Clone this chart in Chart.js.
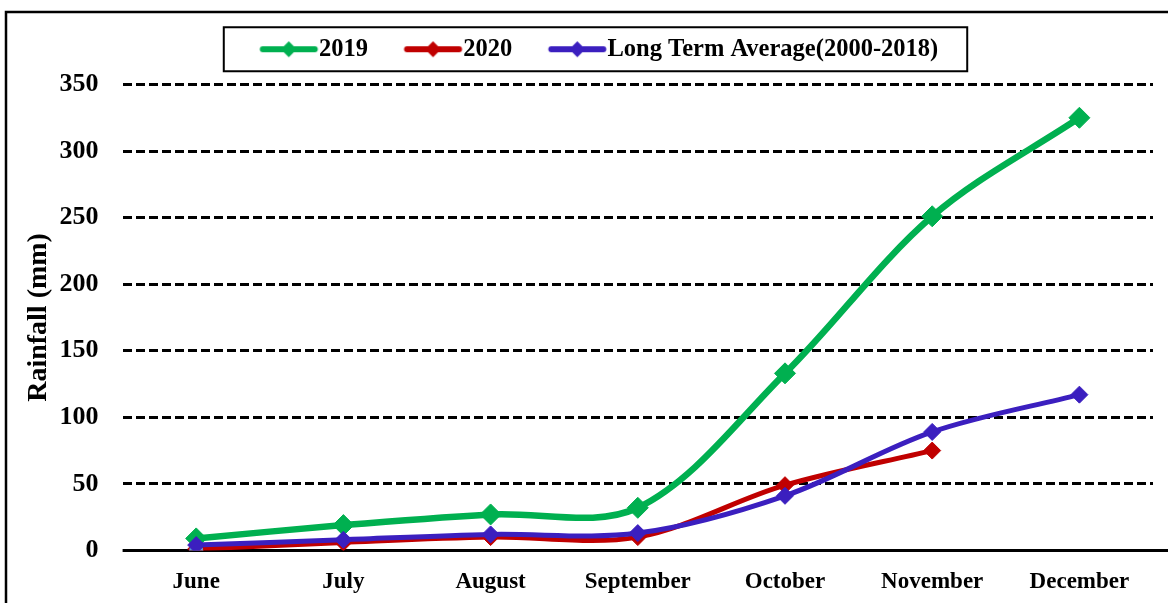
<!DOCTYPE html>
<html>
<head>
<meta charset="utf-8">
<script src="https://cdn.jsdelivr.net/npm/chart.js@4"></script>
<style>
  html, body { margin: 0; padding: 0; background: #fff; }
  #wrap { width: 1168px; height: 603px; }
</style>
</head>
<body>
<div id="wrap"><canvas id="rain-chart"></canvas></div>
<script>
// Monthly rainfall, June - December
const months = ['June', 'July', 'August', 'September', 'October', 'November', 'December'];
const rain2019 = [9, 19, 27, 32, 133, 251, 325];
const rain2020 = [1, 6, 10, 10, 49, 75, null];
const rainLTA = [4, 8, 12, 13, 41, 89, 117];
const rainOther = [0, null, null, null, null, null, null];
const yTicks = [0, 50, 100, 150, 200, 250, 300, 350];

const GREEN = '#00B050';
const RED = '#C00000';
const BLUE = '#3B1FBF';
const FONT = '"Liberation Serif", "Times New Roman", serif';

// legend icon: short line with a diamond in the middle,
// drawn in the right part of the canvas so it starts at the item's left edge
function legendIcon(color, lw, r) {
    const c = document.createElement('canvas');
    c.width = 80; c.height = 22;
    const g = c.getContext('2d');
    const x0 = 16.5, x1 = 74.5, xm = (x0 + x1) / 2;
    g.strokeStyle = color;
    g.lineWidth = lw;
    g.lineCap = 'round';
    g.beginPath(); g.moveTo(x0 + 3, 11); g.lineTo(x1 - 3, 11); g.stroke();
    g.fillStyle = color;
    g.beginPath();
    g.moveTo(xm, 11 - r); g.lineTo(xm + r, 11); g.lineTo(xm, 11 + r); g.lineTo(xm - r, 11);
    g.closePath(); g.fill();
    return c;
}
const icons = [legendIcon(GREEN, 6, 8), legendIcon(RED, 6, 8), legendIcon(BLUE, 6, 8)];

// extra room under the legend
const legendGap = {
    id: 'legendGap',
    beforeInit(chart) {
        const fit = chart.legend.fit;
        chart.legend.fit = function() {
            fit.call(this);
            this.height += 13;
        };
    }
};

// solid zero line (under the series), running out to the right edge
const zeroLine = {
    id: 'zeroLine',
    beforeDatasetsDraw(chart) {
        const ctx = chart.ctx;
        const y0 = chart.scales.y.getPixelForValue(0);
        ctx.save();
        ctx.strokeStyle = '#000';
        ctx.lineWidth = 3;
        ctx.beginPath();
        ctx.moveTo(chart.chartArea.left, y0);
        ctx.lineTo(chart.width, y0);
        ctx.stroke();
        ctx.restore();
    }
};

// outer frame and box round the legend
const framePlugin = {
    id: 'frame',
    afterDraw(chart) {
        const ctx = chart.ctx;
        ctx.save();
        ctx.strokeStyle = '#000';
        ctx.lineWidth = 2.5;
        ctx.strokeRect(6, 12, chart.width + 20, chart.height + 20);
        const boxes = chart.legend.legendHitBoxes;
        if (boxes && boxes.length) {
            const left = boxes[0].left - 36;
            const last = boxes[boxes.length - 1];
            const right = last.left + last.width + 29;
            const mid = boxes[0].top + boxes[0].height / 2;
            ctx.lineWidth = 2;
            ctx.strokeRect(left, mid - 22, right - left, 44);
        }
        ctx.restore();
    }
};

new Chart(document.getElementById('rain-chart'), {
    type: 'line',
    data: {
        labels: months,
        datasets: [
            { label: '2019', data: rain2019, borderColor: GREEN, backgroundColor: GREEN, borderWidth: 6.5, pointStyle: 'rectRot', pointRadius: 10.5, pointBorderWidth: 1, order: 4 },
            { label: '2020', data: rain2020, borderColor: RED, backgroundColor: RED, borderWidth: 5, pointStyle: 'rectRot', pointRadius: 8.5, pointBorderWidth: 1, order: 3 },
            { label: 'Long Term Average(2000-2018)', data: rainLTA, borderColor: BLUE, backgroundColor: BLUE, borderWidth: 5, pointStyle: 'rectRot', pointRadius: 8.5, pointBorderWidth: 1, order: 1 },
            { label: 'other', data: rainOther, borderColor: '#5B9BD5', backgroundColor: '#5B9BD5', showLine: false, pointStyle: 'circle', pointRadius: 6.5, order: 2 }
        ]
    },
    options: {
        responsive: true,
        maintainAspectRatio: false,
        animation: false,
        devicePixelRatio: 1,
        layout: { padding: { left: 30, right: 0, top: 1, bottom: -11 } },
        elements: { line: { tension: 0.33, cubicInterpolationMode: 'default' } },
        plugins: {
            tooltip: { enabled: false },
            legend: {
                position: 'top',
                labels: {
                    usePointStyle: true,
                    pointStyleWidth: 47,
                    padding: 36,
                    color: '#000',
                    font: { family: FONT, size: 24.5, weight: 'bold' },
                    generateLabels(chart) {
                        return chart.data.datasets.slice(0, 3).map((ds, i) => ({
                            text: ds.label,
                            datasetIndex: i,
                            pointStyle: icons[i],
                            fillStyle: ds.borderColor,
                            strokeStyle: ds.borderColor,
                            lineWidth: 0,
                            fontColor: '#000',
                            hidden: false
                        }));
                    }
                }
            }
        },
        scales: {
            x: {
                offset: true,
                grid: { display: false, drawTicks: false },
                border: { display: false },
                ticks: { color: '#000', padding: 18, font: { family: FONT, size: 23, weight: 'bold' } }
            },
            y: {
                min: 0,
                max: 350,
                afterBuildTicks(axis) { axis.ticks = yTicks.map(v => ({ value: v })); },
                grid: {
                    drawTicks: false,
                    color: c => c.tick && c.tick.value === 0 ? 'rgba(0,0,0,0)' : '#000',
                    lineWidth: 3
                },
                border: { display: false, dash: [9, 4] },
                ticks: { color: '#000', padding: 24, font: { family: FONT, size: 26, weight: 'bold' } },
                title: {
                    display: true,
                    text: 'Rainfall (mm)',
                    color: '#000',
                    padding: { top: -8, bottom: -20 },
                    font: { family: FONT, size: 28, weight: 'bold' }
                }
            },
            // empty strip on the right, keeps the plot clear of the edge
            yRight: {
                position: 'right',
                display: true,
                grid: { display: false, drawTicks: false },
                border: { display: false },
                ticks: { display: false },
                afterFit(axis) { axis.width = 15; }
            }
        }
    },
    plugins: [legendGap, zeroLine, framePlugin]
});
</script>
</body>
</html>
